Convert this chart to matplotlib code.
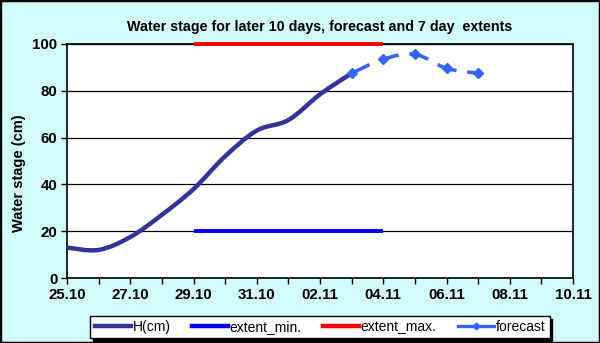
import numpy as np
import matplotlib
matplotlib.use("Agg")
from matplotlib import pyplot as plt
from matplotlib.path import Path
from matplotlib.patches import PathPatch, Rectangle
from matplotlib.lines import Line2D

plt.rcParams['font.family'] = ['Liberation Sans', 'DejaVu Sans']

# data
day_labels = ["25.10", "26.10", "27.10", "28.10", "29.10", "30.10", "31.10", "01.11",
              "02.11", "03.11", "04.11", "05.11", "06.11", "07.11", "08.11", "09.11", "10.11"]
h_days = ["25.10", "26.10", "27.10", "28.10", "29.10", "30.10", "31.10", "01.11", "02.11", "03.11"]
h_cm = [13, 12, 17.5, 27, 38, 52, 63, 67.5, 78.5, 87.5]
fc_days = ["03.11", "04.11", "05.11", "06.11", "07.11"]
fc_cm = [87.5, 93.5, 95.6, 89.6, 87.5]
ext_days = ["29.10", "04.11"]
ext_min = [20, 20]
ext_max = [100, 100]

idx = {d: i for i, d in enumerate(day_labels)}


def smooth_path(xs, ys, t=1 / 6):
    # catmull-rom style bezier through the points, like excel "smoothed line"
    xs = np.asarray(xs, float)
    ys = np.asarray(ys, float)
    pts = np.column_stack([xs, ys])
    verts = [pts[0]]
    codes = [Path.MOVETO]
    n = len(pts)
    for i in range(n - 1):
        p0 = pts[max(i - 1, 0)]
        p1 = pts[i]
        p2 = pts[i + 1]
        p3 = pts[min(i + 2, n - 1)]
        c1 = p1 + (p2 - p0) * t
        c2 = p2 - (p3 - p1) * t
        verts += [c1, c2, p2]
        codes += [Path.CURVE4] * 3
    return Path(verts, codes)


bg = "#d2fbfb"
fig = plt.figure(figsize=(6, 3.43), dpi=100, facecolor=bg)
ax = fig.add_axes([67 / 600, 65 / 343, 506 / 600, 234 / 343])

c_h = "#333399"
c_min = "#0000ff"
c_max = "#ff0000"
c_fc = "#3366ff"

hx = [idx[d] for d in h_days]
ax.add_patch(PathPatch(smooth_path(hx, h_cm), fc="none", ec=c_h, lw=3.2,
                       capstyle="round", zorder=4))

ex = [idx[d] for d in ext_days]
ax.plot(ex, ext_min, color=c_min, lw=2.8, solid_capstyle="butt", zorder=3)
ax.plot(ex, ext_max, color=c_max, lw=2.8, solid_capstyle="butt", zorder=3, clip_on=False)

fx = [idx[d] for d in fc_days]
ax.add_patch(PathPatch(smooth_path(fx, fc_cm), fc="none", ec=c_fc, lw=2.6,
                       linestyle=(0, (5.5, 3)), zorder=5))
ax.plot(fx, fc_cm, ls="none", marker="D", ms=5, color=c_fc, zorder=6)

ax.set_xlim(0, 16)
ax.set_ylim(0, 100)
ax.set_xticks(range(0, 17, 2))
ax.set_xticklabels(day_labels[::2])
ax.set_xticks(range(0, 17), minor=True)
ax.set_yticks(range(0, 101, 20))
ax.yaxis.grid(True, color="black", lw=0.9)
ax.set_axisbelow(True)
for s in ax.spines.values():
    s.set_linewidth(1.2)
ax.tick_params(axis="both", which="both", direction="out", length=4, width=1,
               labelsize=10.8, pad=3)
for lab in ax.get_xticklabels() + ax.get_yticklabels():
    lab.set_fontweight("bold")

ax.set_ylabel("Water stage (cm)", fontsize=10.5, fontweight="bold")
ax.yaxis.set_label_coords(-0.082, 0.45)
ax.set_title("Water stage for later 10 days, forecast and 7 day  extents",
             fontsize=10.3, fontweight="bold", pad=9)

handles = [
    Line2D([], [], color=c_h, lw=3.2, label="H(cm)"),
    Line2D([], [], color=c_min, lw=3.2, label="extent_min."),
    Line2D([], [], color=c_max, lw=3.2, label="extent_max."),
    Line2D([], [], color=c_fc, lw=2.4, marker="D", ms=3.5, label="forecast"),
]
leg = fig.legend(handles=handles, loc="center", bbox_to_anchor=(320 / 600, 1 - 327 / 343),
                 ncol=4, fontsize=10, frameon=True, fancybox=False,
                 shadow={"color": "black", "alpha": 1}, handlelength=2.6,
                 handletextpad=0.15, columnspacing=1.5, borderpad=0.3)
leg.get_frame().set_edgecolor("black")
leg.get_frame().set_linewidth(1)

fig.patches.append(Rectangle((0, 0), 1, 1, transform=fig.transFigure, fill=False,
                             ec="black", lw=2.5, zorder=10))

fig.savefig("out.png", dpi=100, facecolor=bg)
